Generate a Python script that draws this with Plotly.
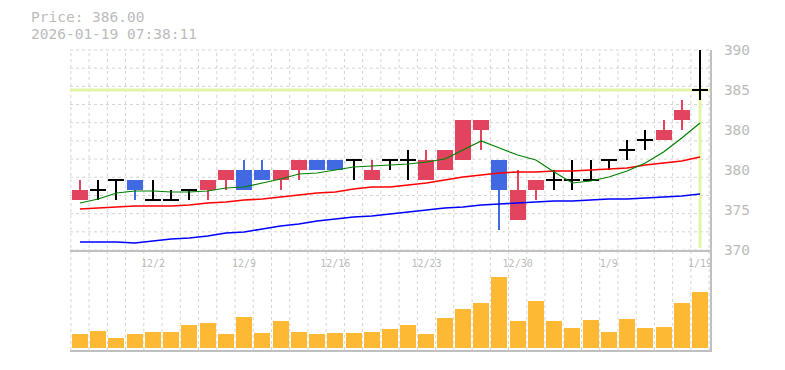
import plotly.graph_objects as go

# ---------------- data ----------------
dates = ["11/26", "11/27", "11/28", "12/1", "12/2", "12/3", "12/4", "12/5",
         "12/8", "12/9", "12/10", "12/11", "12/12", "12/15", "12/16", "12/17",
         "12/18", "12/19", "12/22", "12/23", "12/24", "12/25", "12/26", "12/29",
         "12/30", "1/5", "1/6", "1/7", "1/8", "1/9", "1/13", "1/14", "1/15",
         "1/16", "1/19"]

opens = [375, 376, 377, 377, 375, 375, 376, 376, 377, 378, 378, 377, 378, 379,
         379, 379, 377, 379, 379, 377, 378, 379, 382, 379, 373, 376, 377, 377,
         377, 379, 380, 381, 381, 383, 386]
highs = [377, 377, 377, 377, 377, 376, 376, 377, 378, 379, 379, 378, 379, 379,
         379, 379, 379, 379, 380, 380, 380, 383, 383, 379, 378, 377, 378, 379,
         379, 379, 381, 382, 383, 385, 390]
lows = [375, 375, 375, 375, 375, 375, 375, 375, 376, 376, 377, 376, 377, 378,
        378, 377, 377, 378, 377, 377, 378, 379, 380, 372, 373, 375, 376, 376,
        377, 378, 379, 380, 381, 382, 385]
closes = [376, 376, 377, 376, 375, 375, 376, 377, 378, 376, 377, 378, 379, 378,
          378, 379, 378, 379, 379, 379, 380, 383, 383, 376, 376, 377, 377, 377,
          377, 379, 380, 381, 382, 384, 386]

ma_short = [374.7, 375.1, 375.7, 375.9, 375.9, 375.8, 375.8, 375.9, 376.2, 376.3,
            376.7, 377.1, 377.6, 377.7, 378.0, 378.3, 378.4, 378.5, 378.6, 378.8,
            379.1, 380.0, 380.9, 380.2, 379.5, 379.0, 377.8, 376.7, 376.9, 377.3,
            377.9, 378.7, 379.8, 381.2, 382.7]
ma_mid = [374.1, 374.2, 374.3, 374.4, 374.4, 374.4, 374.5, 374.7, 374.8, 375.0,
          375.1, 375.3, 375.5, 375.7, 375.8, 376.1, 376.3, 376.3, 376.5, 376.7,
          377.0, 377.3, 377.5, 377.7, 377.8, 377.8, 377.9, 377.9, 378.0, 378.1,
          378.2, 378.5, 378.7, 378.9, 379.3]
ma_long = [370.8, 370.8, 370.8, 370.7, 370.9, 371.1, 371.2, 371.4, 371.7, 371.8,
           372.1, 372.4, 372.6, 372.9, 373.1, 373.3, 373.4, 373.6, 373.8, 374.0,
           374.2, 374.3, 374.5, 374.6, 374.7, 374.8, 374.9, 374.9, 375.0, 375.1,
           375.1, 375.2, 375.3, 375.4, 375.6]

volumes = [14300, 17300, 10300, 14300, 16300, 16300, 23300, 25300, 14300, 31300,
           15300, 27300, 16300, 14300, 15300, 15300, 16300, 19300, 23300, 14300,
           30300, 39300, 45300, 71300, 27300, 47300, 27300, 20300, 28300, 16300,
           29300, 20300, 21300, 45300, 56300]

tick_labels = ["12/2", "12/9", "12/16", "12/23", "12/30", "1/9", "1/19"]
price_ticks = [370, 374, 378, 382, 386, 390]
price_tick_text = ["370", "375", "380", "380", "385", "390"]
timestamp = "2026-01-19 07:38:11"

# ---------------- styles ----------------
UP = "#e2445f"
DOWN = "#4169e1"
DOJI = "#000000"
VOL = "#fdb933"
GRID = "#d4d4d4"
BORDER = "#c0c0c0"
TXT = "#bbbbbb"
PRICE_LINE = "#e4f4a6"
MONO = "DejaVu Sans Mono"

x = list(range(len(dates)))
last_price = closes[-1]
colors = [UP if c > o else (DOWN if c < o else DOJI) for o, c in zip(opens, closes)]

body_base, body_h = [], []
for o, c in zip(opens, closes):
    if c == o:
        body_base.append(o - 0.1)
        body_h.append(0.2)
    else:
        body_base.append(min(o, c))
        body_h.append(abs(c - o))

fig = go.Figure()

# moving averages (under candles)
fig.add_trace(go.Scatter(x=x, y=ma_long, mode="lines", line=dict(color="#0000ff", width=1.6),
                         xaxis="x", yaxis="y", hoverinfo="skip"))
fig.add_trace(go.Scatter(x=x, y=ma_mid, mode="lines", line=dict(color="#ff0000", width=1.6),
                         xaxis="x", yaxis="y", hoverinfo="skip"))
fig.add_trace(go.Scatter(x=x, y=ma_short, mode="lines", line=dict(color="#008000", width=1.2),
                         xaxis="x", yaxis="y", hoverinfo="skip"))

# wicks
fig.add_trace(go.Bar(x=x, base=lows, y=[h - l for h, l in zip(highs, lows)], width=0.11,
                     marker=dict(color=colors, line=dict(width=0)), xaxis="x", yaxis="y"))
# bodies
fig.add_trace(go.Bar(x=x, base=body_base, y=body_h, width=0.877,
                     marker=dict(color=colors, line=dict(width=0)), xaxis="x", yaxis="y"))

# volume
fig.add_trace(go.Bar(x=x, y=volumes, width=0.877, marker=dict(color=VOL, line=dict(width=0)),
                     xaxis="x2", yaxis="y2"))

shapes = []
# vertical dashed grid (both panels)
for k in range(len(dates) + 1):
    shapes.append(dict(type="line", xref="x", yref="paper", x0=k - 0.5, x1=k - 0.5, y0=0, y1=1,
                       line=dict(color=GRID, width=1, dash="3px,3px"), layer="below"))
# horizontal dashed grid (price panel)
for k in range(12):
    shapes.append(dict(type="line", xref="x domain", yref="y domain", x0=0, x1=1, y0=k / 11, y1=k / 11,
                       line=dict(color=GRID, width=1, dash="3px,3px"), layer="below"))
# current price lines
shapes.append(dict(type="line", xref="x domain", yref="y", x0=0, x1=1, y0=last_price, y1=last_price,
                   line=dict(color=PRICE_LINE, width=3), layer="below"))
shapes.append(dict(type="line", xref="x", yref="y", x0=x[-1], x1=x[-1], y0=370.2, y1=last_price,
                   line=dict(color=PRICE_LINE, width=3), layer="below"))

fig.update_layout(
    width=777, height=362,
    margin=dict(l=62, r=75, t=42, b=20),
    paper_bgcolor="white", plot_bgcolor="white",
    showlegend=False, barmode="overlay", bargap=0,
    shapes=shapes,
    xaxis=dict(domain=[0, 1], anchor="y", range=[-0.548, len(dates) - 1 + 0.548],
               tickmode="array", tickvals=[dates.index(t) for t in tick_labels], ticktext=tick_labels,
               tickfont=dict(family=MONO, size=10, color=TXT), ticks="", ticklabelstandoff=3,
               showgrid=False, zeroline=False, showline=True, linecolor=BORDER, linewidth=2),
    yaxis=dict(domain=[1 / 3, 1], anchor="x", range=[370, 390], side="right",
               tickmode="array", tickvals=price_ticks, ticktext=price_tick_text,
               tickfont=dict(family=MONO, size=14.5, color=TXT), ticks="", ticklabelstandoff=9,
               showgrid=False, zeroline=False, showline=True, linecolor=BORDER, linewidth=2),
    xaxis2=dict(domain=[0, 1], anchor="y2", matches="x", showticklabels=False, ticks="",
                showgrid=False, zeroline=False, showline=True, linecolor=BORDER, linewidth=2),
    yaxis2=dict(domain=[0, 1 / 3], anchor="x2", range=[-1700, 98300], side="right",
                showticklabels=False, ticks="", showgrid=False, zeroline=False,
                showline=True, linecolor=BORDER, linewidth=2),
    annotations=[
        dict(text=f"Price: {last_price:.2f}", xref="paper", yref="paper", x=-40 / 640, y=(350 - 16.5) / 300,
             xanchor="left", yanchor="middle", showarrow=False, borderpad=0,
             font=dict(family=MONO, size=14.5, color=TXT)),
        dict(text=timestamp, xref="paper", yref="paper", x=-40 / 640, y=(350 - 33.5) / 300,
             xanchor="left", yanchor="middle", showarrow=False, borderpad=0,
             font=dict(family=MONO, size=14.5, color=TXT)),
    ],
)

fig.write_html("out.html")
